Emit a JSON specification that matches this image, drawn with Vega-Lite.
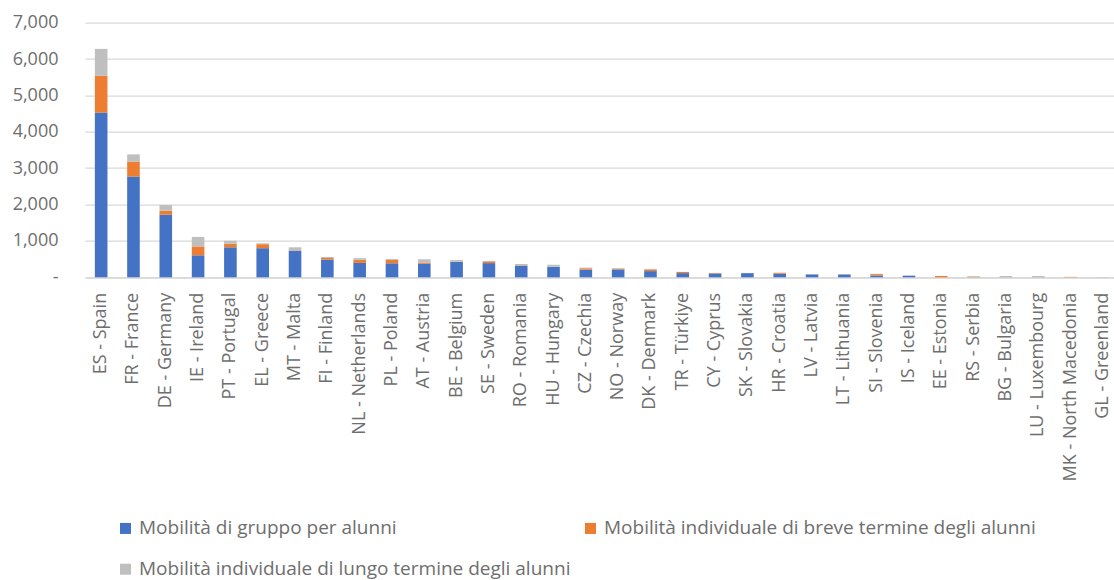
{
  "$schema": "https://vega.github.io/schema/vega-lite/v6.json",
  "autosize": {"type": "none"},
  "width": 1029,
  "height": 254.6,
  "padding": {"left": 85, "top": 22.7, "right": 0, "bottom": 302.7},
  "background": "white",
  "config": {
    "view": {"stroke": null},
    "font": "Open Sans"
  },
  "data": {
    "values": [
      {"country": "ES - Spain", "g": 4530, "b": 1010, "l": 740},
      {"country": "FR - France", "g": 2770, "b": 410, "l": 200},
      {"country": "DE - Germany", "g": 1720, "b": 110, "l": 160},
      {"country": "IE - Ireland", "g": 605, "b": 245, "l": 260},
      {"country": "PT - Portugal", "g": 825, "b": 100, "l": 80},
      {"country": "EL - Greece", "g": 800, "b": 110, "l": 25},
      {"country": "MT - Malta", "g": 730, "b": 10, "l": 85},
      {"country": "FI - Finland", "g": 486, "b": 45, "l": 30},
      {"country": "NL - Netherlands", "g": 395, "b": 88, "l": 45},
      {"country": "PL - Poland", "g": 385, "b": 92, "l": 28},
      {"country": "AT - Austria", "g": 370, "b": 25, "l": 100},
      {"country": "BE - Belgium", "g": 425, "b": 5, "l": 45},
      {"country": "SE - Sweden", "g": 390, "b": 48, "l": 12},
      {"country": "RO - Romania", "g": 320, "b": 10, "l": 35},
      {"country": "HU - Hungary", "g": 285, "b": 5, "l": 55},
      {"country": "CZ - Czechia", "g": 210, "b": 38, "l": 18},
      {"country": "NO - Norway", "g": 215, "b": 20, "l": 20},
      {"country": "DK - Denmark", "g": 170, "b": 48, "l": 12},
      {"country": "TR - Türkiye", "g": 115, "b": 30, "l": 5},
      {"country": "CY - Cyprus", "g": 105, "b": 15, "l": 0},
      {"country": "SK - Slovakia", "g": 115, "b": 0, "l": 5},
      {"country": "HR - Croatia", "g": 100, "b": 25, "l": 0},
      {"country": "LV - Latvia", "g": 80, "b": 0, "l": 5},
      {"country": "LT - Lithuania", "g": 78, "b": 3, "l": 5},
      {"country": "SI - Slovenia", "g": 50, "b": 38, "l": 8},
      {"country": "IS - Iceland", "g": 45, "b": 0, "l": 5},
      {"country": "EE - Estonia", "g": 0, "b": 35, "l": 0},
      {"country": "RS - Serbia", "g": 0, "b": 15, "l": 20},
      {"country": "BG - Bulgaria", "g": 0, "b": 3, "l": 33},
      {"country": "LU - Luxembourg", "g": 0, "b": 3, "l": 33},
      {"country": "MK - North Macedonia", "g": 0, "b": 12, "l": 0},
      {"country": "GL - Greenland", "g": 0, "b": 0, "l": 8}
    ]
  },
  "transform": [
    {"fold": ["g", "b", "l"], "as": ["key", "value"]},
    {"calculate": "datum.key == 'g' ? 'Mobilità di gruppo per alunni' : datum.key == 'b' ? 'Mobilità individuale di breve termine degli alunni' : 'Mobilità individuale di lungo termine degli alunni'", "as": "tipo"},
    {"calculate": "datum.key == 'g' ? 0 : datum.key == 'b' ? 1 : 2", "as": "ord"}
  ],
  "mark": {"type": "bar", "width": {"band": 0.39}},
  "encoding": {
    "x": {
      "field": "country",
      "type": "nominal",
      "sort": null,
      "title": null,
      "scale": {"range": [0, 1034], "paddingInner": 0, "paddingOuter": 0},
      "axis": {
        "labelAngle": -90,
        "labelFontSize": 18,
        "labelColor": "#6e6e6e",
        "labelPadding": 15,
        "ticks": false,
        "domainColor": "#d9d9d9",
        "domainWidth": 1.5,
        "labelLimit": 300
      }
    },
    "y": {
      "field": "value",
      "type": "quantitative",
      "stack": "zero",
      "title": null,
      "scale": {"domain": [0, 7000], "nice": false},
      "axis": {
        "values": [0, 1000, 2000, 3000, 4000, 5000, 6000, 7000],
        "labelExpr": "datum.value == 0 ? '-\u00a0\u00a0' : format(datum.value, ',')",
        "labelFontSize": 18,
        "labelColor": "#6e6e6e",
        "labelPadding": 27,
        "ticks": false,
        "domain": false,
        "gridColor": "#d9d9d9",
        "gridWidth": 1.3
      }
    },
    "color": {
      "field": "tipo",
      "type": "nominal",
      "scale": {
        "domain": ["Mobilità di gruppo per alunni", "Mobilità individuale di breve termine degli alunni", "Mobilità individuale di lungo termine degli alunni"],
        "range": ["#4472c4", "#ed7d31", "#bfbfbf"]
      },
      "legend": {
        "title": null,
        "orient": "none",
        "legendX": 31,
        "legendY": 496,
        "direction": "horizontal",
        "columns": 2,
        "columnPadding": 10,
        "rowPadding": 21,
        "symbolType": "square",
        "symbolSize": 121,
        "symbolStrokeWidth": 0,
        "labelFont": "Open Sans",
        "labelFontSize": 19,
        "labelColor": "#6e6e6e",
        "labelOffset": 4,
        "labelLimit": 600
      }
    },
    "order": {"field": "ord", "type": "quantitative", "sort": "ascending"}
  }
}
